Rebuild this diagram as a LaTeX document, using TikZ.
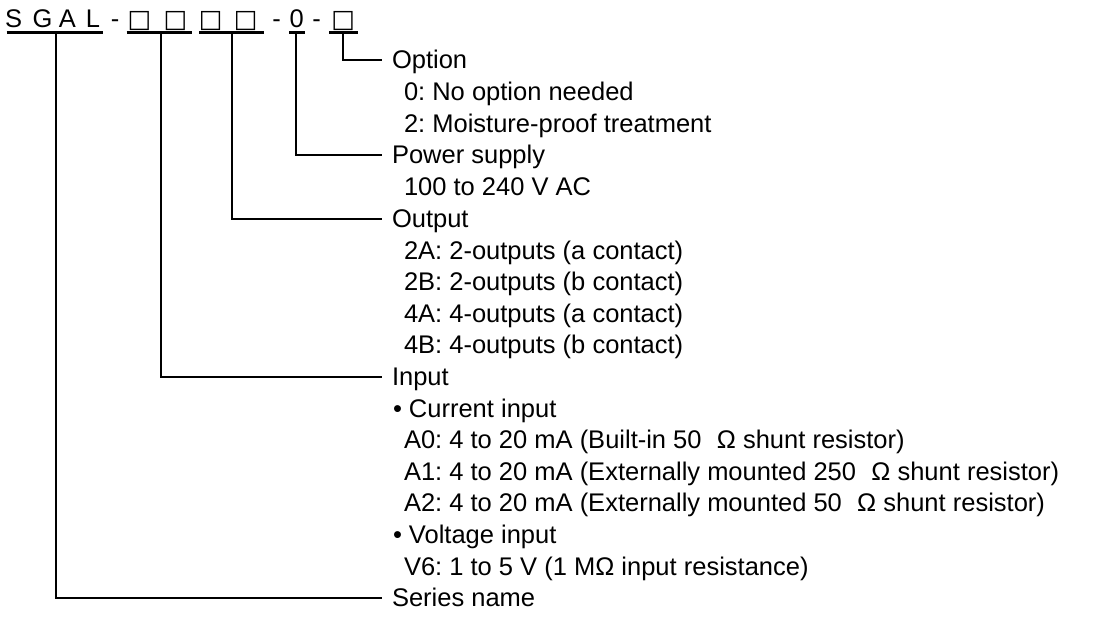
\documentclass[tikz,border=0pt]{standalone}
\usepackage{fontspec}
\setmainfont{Liberation Sans}
\newfontfamily\boxfont{DejaVu Sans}
\frenchspacing
\begin{document}
\begin{tikzpicture}[x=1pt,y=-1pt,
  every node/.style={inner sep=0pt,outer sep=0pt,font=\fontsize{25.5}{30}\selectfont},
  lbl/.style={anchor=west,text height=18pt,text depth=0pt},
  hch/.style={anchor=base},
  bx/.style={anchor=base,font=\boxfont\fontsize{25}{30}\selectfont},
  conn/.style={line width=2pt},
  uline/.style={line width=3pt}]
\useasboundingbox (0,0) rectangle (1097,631);
% header
\node[hch] (hS) at (13.7,28) {S};
\node[hch] (hG) at (42.5,28) {G};
\node[hch] (hA) at (67.5,28) {A};
\node[hch] (hL) at (93,28) {L};
\node[hch] (hd1) at (115,28) {-};
\node[bx] (hb1) at (139.5,28) {□};
\node[bx] (hb2) at (175.5,28) {□};
\node[bx] (hb3) at (210.7,28) {□};
\node[bx] (hb4) at (245.7,28) {□};
\node[hch] (hd2) at (276.7,28) {-};
\node[hch] (h0) at (296.7,28) {0};
\node[hch] (hd3) at (316.7,28) {-};
\node[bx] (hb5) at (343.3,28) {□};
% underlines
\coordinate (u1a) at (6.7,32.3);  \coordinate (u1b) at (102.7,32.3);
\coordinate (u2a) at (126.7,32.3); \coordinate (u2b) at (192,32.3);
\coordinate (u3a) at (199.3,32.3); \coordinate (u3b) at (264,32.3);
\coordinate (u4a) at (289.3,32.3); \coordinate (u4b) at (305.3,32.3);
\coordinate (u5a) at (329.3,32.3); \coordinate (u5b) at (358.3,32.3);
\draw[uline] (u1a) -- (u1b);
\draw[uline] (u2a) -- (u2b);
\draw[uline] (u3a) -- (u3b);
\draw[uline] (u4a) -- (u4b);
\draw[uline] (u5a) -- (u5b);
\coordinate (k1) at (56,33);
\coordinate (k2) at (161.3,33);
\coordinate (k3) at (231.7,33);
\coordinate (k4) at (296,33);
\coordinate (k5) at (343.3,33);
% labels
\node[lbl] (opt) at (392,60) {Option};
\node[lbl] (opt1) at (404,91.6) {0: No option needed};
\node[lbl] (opt2) at (404,123.2) {2: Moisture-proof treatment};
\node[lbl] (pow) at (392,154.8) {Power supply};
\node[lbl] (pow1) at (404,186.4) {100 to 240 V AC};
\node[lbl] (out) at (392,218.5) {Output};
\node[lbl] (out1) at (404,250) {2A: 2-outputs (a contact)};
\node[lbl] (out2) at (404,281.5) {2B: 2-outputs (b contact)};
\node[lbl] (out3) at (404,313) {4A: 4-outputs (a contact)};
\node[lbl] (out4) at (404,344.6) {4B: 4-outputs (b contact)};
\node[lbl] (inp) at (392,376.5) {Input};
\node[lbl] (inp1) at (393,408) {• Current input};
\node[lbl] (inp2) at (404,439.6) {A0: 4 to 20 mA (Built-in 50\hspace{0.6em}Ω shunt resistor)};
\node[lbl] (inp3) at (404,471.2) {A1: 4 to 20 mA (Externally mounted 250\hspace{0.6em}Ω shunt resistor)};
\node[lbl] (inp4) at (404,502.8) {A2: 4 to 20 mA (Externally mounted 50\hspace{0.6em}Ω shunt resistor)};
\node[lbl] (inp5) at (393,534.4) {• Voltage input};
\node[lbl] (inp6) at (404,566) {V6: 1 to 5 V (1 MΩ input resistance)};
\node[lbl] (ser) at (392,597.5) {Series name};
% connectors
\draw[conn] (k5) |- ([xshift=-10pt]opt.west);
\draw[conn] (k4) |- ([xshift=-10pt]pow.west);
\draw[conn] (k3) |- ([xshift=-10pt]out.west);
\draw[conn] (k2) |- ([xshift=-10pt]inp.west);
\draw[conn] (k1) |- ([xshift=-10pt]ser.west);
\end{tikzpicture}
\end{document}
